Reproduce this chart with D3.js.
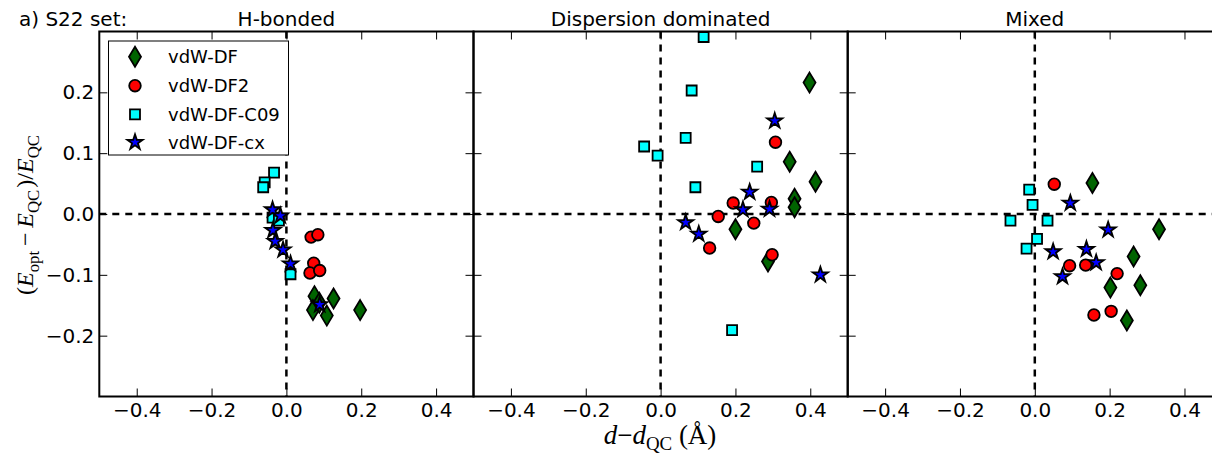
<!DOCTYPE html>
<html><head><meta charset="utf-8">
<script src="https://cdn.jsdelivr.net/npm/d3@7"></script>
<style>body{margin:0;background:#fff;} svg{display:block}</style>
</head><body><svg id="chart" width="1212" height="453"></svg>
<script>
// ---------- data ----------
const panelTitles = ["H-bonded", "Dispersion dominated", "Mixed"];
const seriesNames = ["vdW-DF", "vdW-DF2", "vdW-DF-C09", "vdW-DF-cx"];
const xTicks = [-0.4, -0.2, 0.0, 0.2, 0.4];
const yTicks = [-0.2, -0.1, 0.0, 0.1, 0.2];
const figLabel = "a) S22 set:";

// H-bonded  [d - d_QC, (E_opt - E_QC)/E_QC]
const hb_vdwDF  = [[0.075,-0.135],[0.126,-0.139],[0.071,-0.158],[0.108,-0.167],[0.197,-0.158],[0.088,-0.146]];
const hb_vdwDF2 = [[0.066,-0.038],[0.084,-0.034],[0.073,-0.081],[0.063,-0.097],[0.089,-0.093]];
const hb_C09    = [[-0.033,0.068],[-0.058,0.052],[-0.062,0.044],[-0.037,-0.006],[-0.020,-0.011],[0.011,-0.099]];
const hb_cx     = [[-0.037,0.007],[-0.016,-0.003],[-0.036,-0.027],[-0.030,-0.045],[-0.009,-0.059],[0.011,-0.082],[0.089,-0.149]];

// Dispersion dominated
const dd_vdwDF  = [[0.398,0.216],[0.345,0.086],[0.414,0.053],[0.358,0.025],[0.358,0.011],[0.200,-0.025],[0.287,-0.078]];
const dd_vdwDF2 = [[0.307,0.118],[0.194,0.018],[0.296,0.019],[0.154,-0.004],[0.249,-0.015],[0.131,-0.056],[0.298,-0.067]];
const dd_C09    = [[0.115,0.291],[0.083,0.203],[0.067,0.125],[-0.044,0.111],[-0.008,0.096],[0.258,0.078],[0.093,0.044],[0.191,-0.191]];
const dd_cx     = [[0.305,0.153],[0.238,0.036],[0.220,0.007],[0.291,0.008],[0.067,-0.014],[0.102,-0.033],[0.427,-0.100]];

// Mixed
const mx_vdwDF  = [[0.154,0.051],[0.332,-0.025],[0.264,-0.070],[0.202,-0.121],[0.282,-0.117],[0.246,-0.175]];
const mx_vdwDF2 = [[0.052,0.049],[0.093,-0.085],[0.136,-0.084],[0.220,-0.098],[0.158,-0.166],[0.204,-0.160]];
const mx_C09    = [[-0.015,0.040],[-0.006,0.015],[-0.065,-0.011],[0.034,-0.011],[0.006,-0.041],[-0.022,-0.057]];
const mx_cx     = [[0.095,0.018],[0.196,-0.026],[0.138,-0.058],[0.049,-0.062],[0.164,-0.080],[0.074,-0.103]];

const panelData = [
  [hb_vdwDF, hb_vdwDF2, hb_C09, hb_cx],
  [dd_vdwDF, dd_vdwDF2, dd_C09, dd_cx],
  [mx_vdwDF, mx_vdwDF2, mx_C09, mx_cx]
];

// ---------- styles ----------
const colors = ["#006400", "#ff0000", "#00ffff", "#0000ff"];
const FONT = "'DejaVu Sans', sans-serif";
const MATH = "'Liberation Serif', 'DejaVu Serif', serif";

const diamondPath = (w, h) => `M0,${-h}L${w},0L0,${h}L${-w},0Z`;
const markerPaths = [
  diamondPath(6, 10),
  d3.symbol().type(d3.symbolCircle).size(Math.PI * 5.8 * 5.8)(),
  d3.symbol().type(d3.symbolSquare).size(10 * 10)(),
  d3.symbol().type(d3.symbolStar).size(72)()
];

// ---------- layout ----------
const svg = d3.select("#chart");
const left0 = 99.3, pw = 374.2, plotTop = 31.5, plotBottom = 396.5;
const y = d3.scaleLinear().domain([-0.3, 0.3]).range([plotBottom, plotTop]);

panelData.forEach((series, k) => {
  const l = left0 + k * pw;
  const x = d3.scaleLinear().domain([-0.5, 0.5]).range([l, l + pw]);
  const g = svg.append("g");

  // zero reference lines
  g.append("line").attr("x1", x(-0.5)).attr("x2", x(0.5)).attr("y1", y(0)).attr("y2", y(0))
    .attr("stroke", "#000").attr("stroke-width", 2.5).attr("stroke-dasharray", "7,6");
  g.append("line").attr("x1", x(0)).attr("x2", x(0)).attr("y1", y(0.3)).attr("y2", y(-0.3))
    .attr("stroke", "#000").attr("stroke-width", 2.5).attr("stroke-dasharray", "7,6");

  // axes (inward ticks on all four sides)
  const fmt = d3.format(".1f");
  const axB = g.append("g").attr("transform", `translate(0,${plotBottom})`)
    .call(d3.axisBottom(x).tickValues(xTicks).tickFormat(fmt).tickSize(-8).tickSizeOuter(0).tickPadding(6));
  const axT = g.append("g").attr("transform", `translate(0,${plotTop})`)
    .call(d3.axisTop(x).tickValues(xTicks).tickFormat("").tickSize(-8).tickSizeOuter(0));
  const axL = g.append("g").attr("transform", `translate(${l},0)`)
    .call(d3.axisLeft(y).tickValues(yTicks).tickFormat(k === 0 ? fmt : "").tickSize(-8).tickSizeOuter(0).tickPadding(5));
  const axR = g.append("g").attr("transform", `translate(${l + pw},0)`)
    .call(d3.axisRight(y).tickValues(yTicks).tickFormat("").tickSize(-8).tickSizeOuter(0));
  [axB, axT, axL, axR].forEach(a => {
    a.select(".domain").remove();
    a.selectAll(".tick line").attr("stroke", "#000").attr("stroke-width", 1);
    a.selectAll(".tick text").attr("font-family", FONT).attr("font-size", 20).attr("fill", "#000");
  });

  // markers: vdW-DF, vdW-DF2, C09, cx (drawn in that order)
  series.forEach((pts, s) => {
    g.append("g").selectAll("path").data(pts).join("path")
      .attr("d", markerPaths[s])
      .attr("transform", d => `translate(${x(d[0])},${y(d[1])})`)
      .attr("fill", colors[s]).attr("stroke", "#000").attr("stroke-width", 1.8)
      .attr("stroke-linejoin", "miter");
  });

  // frame
  g.append("rect").attr("x", l).attr("y", plotTop).attr("width", pw).attr("height", plotBottom - plotTop)
    .attr("fill", "none").attr("stroke", "#000").attr("stroke-width", 2);

  // title
  svg.append("text").attr("x", x(0)).attr("y", 26).attr("text-anchor", "middle")
    .attr("font-family", FONT).attr("font-size", 20).text(panelTitles[k]);
});

svg.append("text").attr("x", 19).attr("y", 26).attr("font-family", FONT).attr("font-size", 20).text(figLabel);

// ---------- legend ----------
const lg = svg.append("g");
lg.append("rect").attr("x", 108.5).attr("y", 41).attr("width", 180).attr("height", 114)
  .attr("fill", "#fff").attr("stroke", "#000").attr("stroke-width", 1);
const rowY = [56.7, 85.7, 114.3, 142.3];
seriesNames.forEach((name, s) => {
  lg.append("path").attr("d", markerPaths[s]).attr("transform", `translate(135,${rowY[s]})`)
    .attr("fill", colors[s]).attr("stroke", "#000").attr("stroke-width", 1.8);
  lg.append("text").attr("x", 168).attr("y", rowY[s]).attr("dy", "0.36em")
    .attr("font-family", FONT).attr("font-size", 18).text(name);
});

// ---------- axis labels (math text) ----------
function mathText(parent, parts, size) {
  const t = parent.append("text").attr("font-family", MATH).attr("font-size", size).attr("text-anchor", "middle");
  let shift = 0;
  parts.forEach(p => {
    const ts = t.append("tspan").text(p.t);
    if (p.i) ts.attr("font-style", "italic");
    const target = p.sub ? size * 0.24 : 0;
    if (target !== shift) { ts.attr("dy", target - shift); shift = target; }
    if (p.sub) ts.attr("font-size", size * 0.7);
  });
  return t;
}
const yl = svg.append("g").attr("transform", "translate(33,215) rotate(-90)");
mathText(yl, [
  {t: "("}, {t: "E", i: true}, {t: "opt", sub: true}, {t: "\u2009\u2212\u2009"},
  {t: "E", i: true}, {t: "QC", sub: true}, {t: "\u200A)/"}, {t: "E", i: true}, {t: "QC", sub: true}
], 24);

const xl = svg.append("g").attr("transform", "translate(660,444)");
mathText(xl, [
  {t: "d", i: true}, {t: "\u2212"}, {t: "d", i: true}, {t: "QC", sub: true}, {t: " (Å)"}
], 27);
</script>
</body></html>
